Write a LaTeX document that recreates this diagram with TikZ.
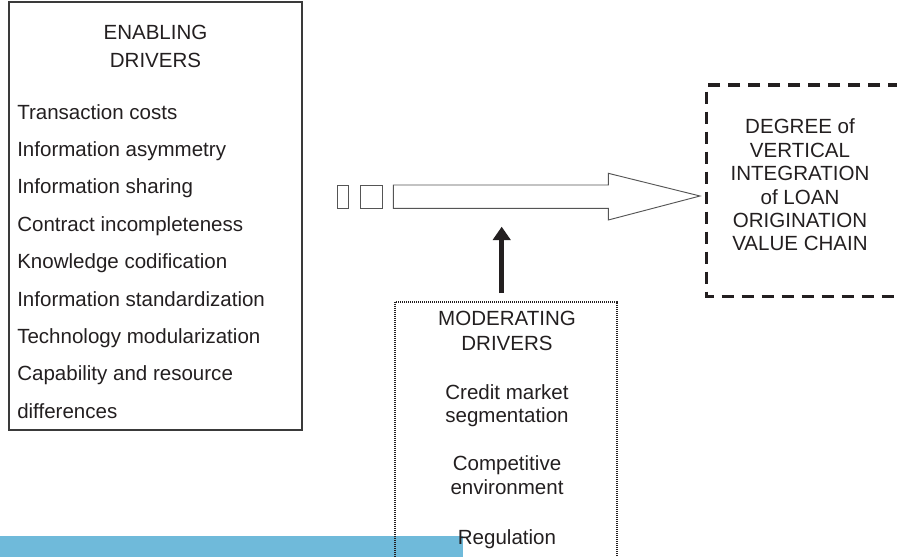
\documentclass[tikz,border=0pt]{standalone}
\usepackage{fontspec}
\setmainfont{Liberation Sans}
\usetikzlibrary{arrows.meta,positioning}
\definecolor{FigText}{HTML}{231F20}
\definecolor{FigLine}{HTML}{3A3A3A}
\definecolor{FigGray}{HTML}{555555}
\definecolor{FigCyan}{HTML}{6FBADA}
\tikzset{
  px/.style={x=0.75pt,y=-0.75pt},
  figtext/.style={font=\fontsize{15.4}{17.6}\selectfont,text=FigText,inner sep=0pt},
  listitem/.style={figtext,anchor=base west},
  headtext/.style={figtext,anchor=base},
  drivers/.style={draw=FigLine,line width=0.9pt},
  modbox/.style={draw=FigText,line width=1.6pt,dash pattern=on 1pt off 0.5pt},
  outcome/.style={draw=FigText,line width=2.5pt,dash pattern=on 9pt off 6pt},
  blockarrow/.style={draw=FigGray,line width=0.7pt,fill=white},
  pusharrow/.style={-{Triangle[length=10pt,width=13pt]},line width=3.4pt,draw=FigText}
}

\begin{document}
\begin{tikzpicture}[px]
  \clip (0,0) rectangle (897,557);
  % enabling drivers
  \draw[drivers] (9,2) rectangle (302,430);
  \node[headtext] (enab-title) at (155.5,39) {ENABLING};
  \node[headtext] (enab-sub) at (155.5,67) {DRIVERS};
  \foreach \txt [count=\i from 0] in {Transaction costs,Information asymmetry,
      Information sharing,Contract incompleteness,Knowledge codification,
      Information standardization,Technology modularization,
      Capability and resource,differences}
    \node[listitem] (enab-\i) at (17,{119+37.4*\i}) {\txt};

  % block arrow
  \draw[blockarrow] (337.3,185) rectangle (348.3,208.3);
  \draw[blockarrow] (360,185) rectangle (382.7,208.3);
  \draw[blockarrow] (393.3,185) coordinate (flow-nw) -- (608.3,185) -- (608.3,173.3)
    -- (700,196) coordinate (flow-tip) -- (608.3,220) -- (608.3,208.3)
    -- (393.3,208.3) -- cycle;
  \coordinate (flow-bottom) at (501.7,208.3);

  % cyan strip
  \fill[FigCyan] (0,536) rectangle (463,560);

  % moderating drivers
  \draw[modbox] (395,301.7) coordinate (mod-nw) rectangle (616.7,580) coordinate (mod-se);
  \foreach \txt/\y [count=\i] in {MODERATING/325,DRIVERS/350,Credit market/399,
      segmentation/422,Competitive/470,environment/494,Regulation/544}
    \node[headtext] (mod-\i) at (507,\y) {\txt};
  \draw[pusharrow,shorten <=6.5pt,shorten >=13.8pt] (flow-bottom |- mod-nw) -- (flow-bottom);

  % outcome
  \draw[outcome] (920,85) -- (706.7,85) coordinate (out-nw) -- (706.7,296.7) -- (920,296.7);
  \foreach \txt/\y [count=\i] in {DEGREE of/133.7,VERTICAL/157,INTEGRATION/180.5,
      of LOAN/204,ORIGINATION/227.5,VALUE CHAIN/250.5}
    \node[headtext] (out-\i) at (800,\y) {\txt};
\end{tikzpicture}
\end{document}
